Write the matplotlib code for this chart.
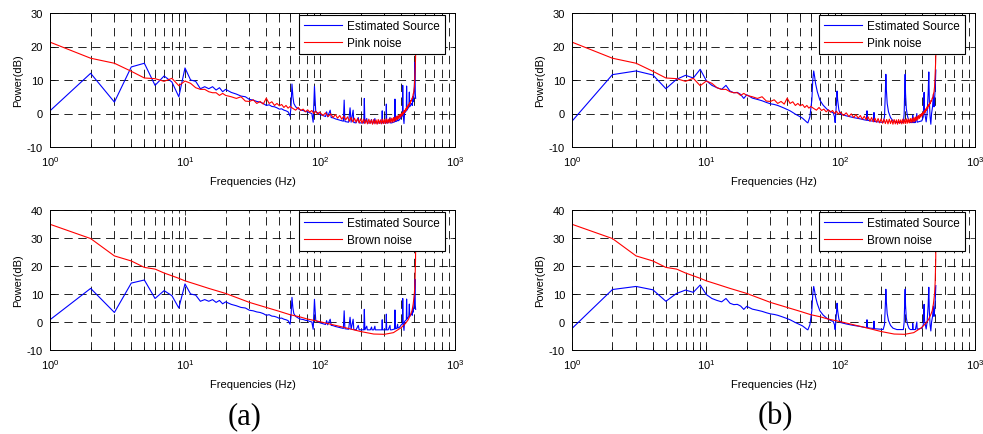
import matplotlib
matplotlib.use('Agg')
import matplotlib.pyplot as plt

# pink noise spectrum (shared by (a) and (b))
pink_f = list(range(1, 21)) + list(range(22, 61, 2)) + list(range(63, 100, 3)) + list(range(100, 501, 5)) + [503, 506, 509, 511, 512]
pink_db = [21.3, 16.5, 15.0, 12.6, 10.6, 10.4, 9.6, 10.5, 8.3, 9.7,
           9.0, 7.7, 7.2, 7.2, 6.5, 6.2, 6.2, 5.4, 6.0, 5.4,
           5.0, 4.5, 5.0, 3.7, 3.6, 4.1, 3.0, 3.6, 2.8, 4.6,
           3.0, 3.5, 2.4, 3.0, 2.3, 2.7, 1.8, 2.4, 1.6, 2.1,
           1.5, 1.0, 1.8, 0.9, 1.3, 0.5, 1.1, 0.4, 0.9, 0.0, 0.7, -0.2, 0.4,
           0.3, -0.6, 0.2, -0.9, -0.1, -1.2, -0.3, -1.4, -0.6, -1.7,
           -0.8, -1.9, -1.0, -2.3, -1.2, -2.5, -1.4, -2.6, -1.5, -2.8,
           -1.6, -2.9, -1.7, -3.0, -1.8, -3.1, -1.7, -3.0, -1.9, -3.2,
           -1.8, -3.1, -1.9, -3.2, -1.8, -3.0, -1.9, -3.1, -1.7, -3.0,
           -1.8, -3.0, -1.6, -2.9, -1.7, -2.8, -1.5, -2.7, -1.4, -2.6,
           -1.2, -2.4, -1.1, -2.1, -0.8, -1.8, -0.6, -1.5, -0.3, -1.1,
           0.0, -0.7, 0.4, -0.2, 0.9, 0.3, 1.4, 0.9, 2.0, 1.5,
           2.6, 2.2, 3.2, 2.9, 3.9, 3.7, 4.6, 4.6, 5.8, 6.4,
           8.0,
           10.0, 12.5, 15.0, 17.5, 20.0]

# brown noise spectrum (shared)
brown_f = [1, 2, 3, 4, 5, 6, 7, 8, 9, 10, 12, 15, 20, 30, 40, 50, 60, 70, 80, 100,
           125, 150, 175, 200, 250, 300, 350, 400, 430, 450, 470, 480, 490, 500, 505, 510, 512]
brown_db = [34.9, 29.8, 23.6, 21.8, 19.5, 18.9, 17.5, 16.5, 15.6, 14.7,
            13.5, 12.0, 10.2, 7.0, 5.2, 3.8, 2.6, 1.9, 1.1, 0.1,
            -1.0, -1.9, -2.7, -3.4, -4.3, -4.4, -3.8, -2.0, -0.5, 0.8,
            2.8, 4.0, 6.4, 10.0, 14.0, 22.0, 32.0]

# estimated source, case (a)
est_a_f = list(range(1, 21)) + list(range(22, 61, 2)) + [
    61, 62, 63, 64, 66, 69, 72, 75, 78, 81, 84, 87, 89, 91, 92, 93, 96, 99,
    100, 105, 110, 112, 114, 119, 121, 125, 130, 135,
    140, 145, 149, 151, 153, 158, 163, 167, 170, 176,
    178, 185, 192, 195, 200, 206, 211, 213, 215, 222,
    224, 230, 236, 241, 243, 250, 255, 257, 265, 272,
    280, 287, 289, 291, 300, 308, 310, 312, 320, 330,
    332, 340, 350, 357, 359, 361, 370, 376, 378, 385,
    392, 400, 408, 410, 413, 419, 423, 430, 436, 438,
    441, 448, 455, 459, 462, 470, 478, 483, 486, 490,
    495, 500, 505, 508, 511]
est_a_db = [0.8, 12.0, 3.4, 13.9, 15.0, 8.4, 11.2, 9.4, 5.0, 13.6,
            10.0, 9.6, 7.4, 8.0, 7.4, 8.0, 7.0, 7.7, 6.5, 7.2,
            6.3, 5.8, 5.2, 5.0, 4.2, 4.0, 3.6, 3.4, 3.0, 2.4,
            2.6, 2.1, 2.0, 1.7, 1.3, 1.4, 1.0, 0.8, 0.5, -0.8,
            2.0, 8.8, 5.0, 3.0, 2.0, 1.4, 1.0, 0.9, 0.6, 0.5, 0.2, 0.0, -2.6, 8.1, 4.0, 0.5, 0.2, -0.2,
            -0.3, -0.6, -0.9, 0.5, -1.0, 1.0, -1.2, -1.3, -1.6, -1.8,
            -2.0, -2.2, -2.3, 4.0, -2.4, -2.5, -2.6, 1.7, -2.6, 1.0,
            -2.7, -2.8, -1.2, -2.8, -2.8, -2.8, -2.8, 4.5, -2.8, -1.5,
            -2.8, -2.8, -2.8, -1.8, -2.8, -2.8, -1.5, -2.8, -2.8, -2.8,
            -2.8, -2.8, 0.8, -2.8, -2.8, -2.8, 2.8, -2.8, -2.8, -1.2,
            -2.8, -2.8, -2.6, -2.5, 4.3, -2.4, -2.3, -0.8, -2.2, -2.0,
            -1.6, -1.0, -0.6, 8.4, -0.5, -3.0, 0.2, 0.5, 0.8, 8.2,
            1.0, 1.5, 2.0, 6.4, 2.0, 2.5, 3.0, 2.4, 5.0, 3.5,
            5.0, 8.0, 15.3, 6.0, 4.5]

# estimated source, case (b)
est_b_f = list(range(1, 21)) + list(range(22, 57, 2)) + [
    57, 59, 61, 62, 63, 64, 65, 67, 70, 74,
    79, 84, 88, 90, 91, 93, 94, 95, 97, 100,
    110, 124, 140, 150, 156, 157, 158, 166, 176, 177,
    178, 190, 200, 207, 212, 215, 217, 219, 222, 227,
    235, 245, 262, 280, 293, 297, 300, 302, 304, 308,
    314, 322, 330, 343, 344, 346, 360, 369, 371, 385,
    402, 412, 418, 421, 433, 440, 448, 453, 457, 463,
    469, 475, 483, 490, 495, 500, 506, 511]
est_b_db = [-2.3, 11.6, 12.7, 11.5, 7.4, 10.2, 11.4, 10.6, 13.2, 9.8,
            8.4, 7.7, 7.2, 8.4, 6.7, 6.2, 6.3, 5.7, 4.5, 5.6,
            4.6, 4.2, 3.8, 3.3, 2.9, 2.7, 2.4, 2.0, 1.6, 1.2,
            0.8, 0.3, -0.2, -0.6, -1.0, -1.4, -2.0, -2.6,
            -2.8, -1.0, 4.0, 10.0, 12.7, 11.0, 9.0, 6.5, 4.0, 2.5,
            1.3, 0.6, 0.2, -1.0, -2.7, 3.0, 6.7, 4.0, 1.0, -0.2,
            -0.7, -1.2, -1.6, -1.9, -2.0, 0.8, -2.0, -2.2, -2.3, 0.3,
            -2.4, -2.5, -2.6, -2.7, -1.0, 6.0, 11.7, 7.0, 3.0, 0.5,
            -1.2, -2.2, -2.7, -2.7, -2.7, 0.0, 8.0, 11.7, 6.0, 1.5,
            -0.7, -2.2, -2.7, -2.7, -0.5, -2.7, -2.7, 0.0, -2.6, -2.4,
            -2.2, -1.0, 6.3, 0.5, -2.5, 0.0, 6.0, 12.4, 4.0, -1.0,
            -3.2, 0.0, 2.0, 5.7, 2.0, 4.0, 8.0, 13.0]

top_yticks = [-10, 0, 10, 20, 30]
bot_yticks = [-10, 0, 10, 20, 30, 40]

plt.rcParams['font.family'] = ['Liberation Sans', 'DejaVu Sans']
plt.rcParams['font.size'] = 8
plt.rcParams['mathtext.fontset'] = 'custom'
plt.rcParams['mathtext.rm'] = 'Liberation Sans'
plt.rcParams['mathtext.it'] = 'Liberation Sans:italic'
plt.rcParams['lines.scale_dashes'] = False
plt.rcParams['axes.unicode_minus'] = False


def panel(ax, f_est, est, f_noise, noise, noise_name, yticks):
    ax.semilogx(f_est, est, color='b', lw=0.8, label='Estimated Source')
    ax.semilogx(f_noise, noise, color='r', lw=0.8, label=noise_name)
    ax.set_xlim(1, 1000)
    ax.set_ylim(yticks[0], yticks[-1])
    ax.set_yticks(yticks)
    ax.set_axisbelow(True)
    ax.grid(True, which='both', axis='x', color='k', linestyle=(0, (6, 4)), linewidth=0.6)
    ax.grid(True, which='major', axis='y', color='k', linestyle=(0, (6, 4)), linewidth=0.6)
    ax.tick_params(which='both', direction='in', top=True, right=True, width=0.5)
    ax.tick_params(which='major', length=3.5, pad=5)
    ax.tick_params(which='minor', length=2)
    for s in ax.spines.values():
        s.set_linewidth(0.7)
    ax.set_xlabel('Frequencies (Hz)', labelpad=6)
    ax.set_ylabel('Power(dB)', labelpad=3)
    leg = ax.legend(loc='upper right', bbox_to_anchor=(1 - 10 / 405, 1 - 2 / 134),
                    borderaxespad=0, fancybox=False, edgecolor='k', framealpha=1,
                    handlelength=3.2, handletextpad=0.4, fontsize=8.5, borderpad=0.45,
                    labelspacing=0.4)
    leg.get_frame().set_linewidth(0.8)


fig = plt.figure(figsize=(9.83, 4.35), dpi=100)
W, H = 983.0, 435.0
ax1 = fig.add_axes([50 / W, 1 - 148 / H, 405 / W, 134 / H])
ax2 = fig.add_axes([572 / W, 1 - 148 / H, 403 / W, 134 / H])
ax3 = fig.add_axes([50 / W, 1 - 351 / H, 405 / W, 140 / H])
ax4 = fig.add_axes([572 / W, 1 - 351 / H, 403 / W, 140 / H])

panel(ax1, est_a_f, est_a_db, pink_f, pink_db, 'Pink noise', top_yticks)
panel(ax2, est_b_f, est_b_db, pink_f, pink_db, 'Pink noise', top_yticks)
panel(ax3, est_a_f, est_a_db, brown_f, brown_db, 'Brown noise', bot_yticks)
panel(ax4, est_b_f, est_b_db, brown_f, brown_db, 'Brown noise', bot_yticks)

fig.text(245 / W, 1 - 417 / H, '(a)', ha='center', va='center', family='Liberation Serif', fontsize=22)
fig.text(775 / W, 1 - 417 / H, '(b)', ha='center', va='center', family='Liberation Serif', fontsize=22)

fig.savefig('out.png', dpi=100)
